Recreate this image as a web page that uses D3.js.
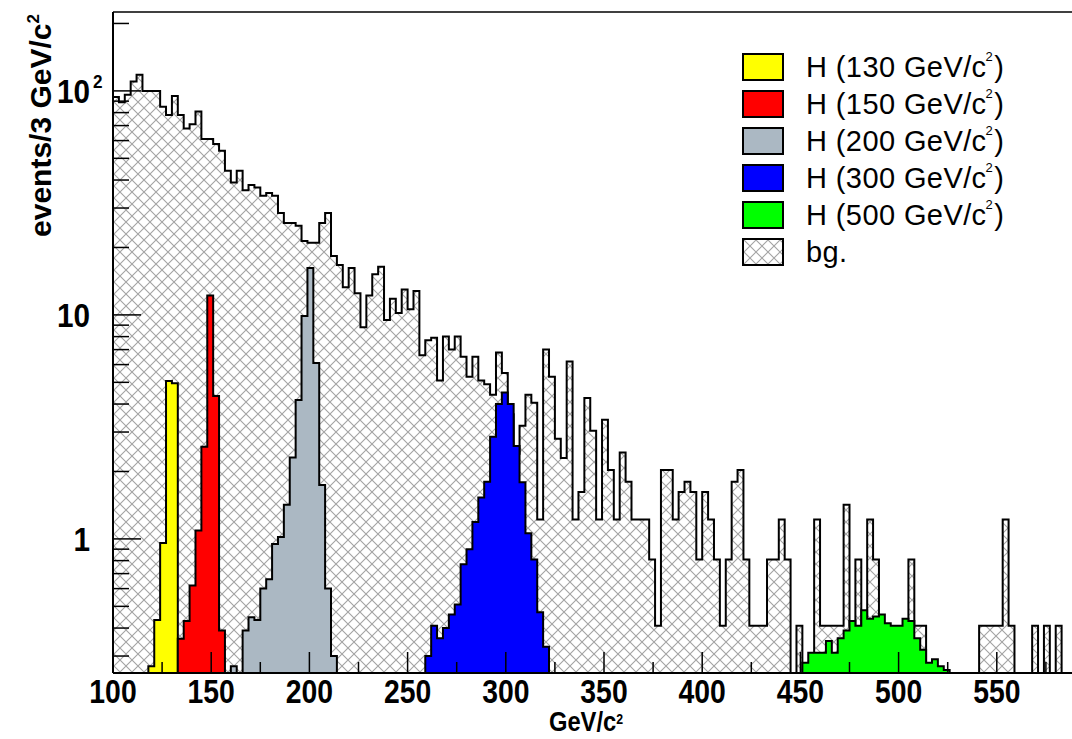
<!DOCTYPE html>
<html>
<head>
<meta charset="utf-8">
<script src="https://cdn.jsdelivr.net/npm/d3@7"></script>
<style>
  html, body { margin: 0; padding: 0; background: #fff; }
  svg { display: block; }
</style>
</head>
<body>
<svg id="chart" width="1072" height="739"></svg>
<script>
// ---------------- DATA ----------------
const binStart = 100;      // GeV
const binWidth = 3;        // GeV per bin

// background (bg.), one value per 3 GeV bin starting at 100 GeV
const bgValues = [
  94, 89, 96, 110, 118, 100, 100, 100, 85, 78,
  95, 78, 68, 71, 81, 61, 61, 58, 54, 44,
  39, 44, 36, 38, 37, 34, 35, 34, 28.5, 25.7,
  25.7, 25, 21.4, 21, 21, 25.7, 28.5, 18.3, 16.7, 13.3,
  16.2, 12.5, 8.8, 12.2, 15.2, 16.4, 9.5, 11.8, 10.2, 13,
  10.6, 12.8, 6.6, 7.7, 7.9, 5.1, 8.0, 7.0, 8.0, 6.5,
  5.3, 6.5, 5.1, 4.9, 4.4, 6.8, 5.5, 3.6, 2.4, 3.2,
  4.4, 4.05, 1.22, 7.0, 5.3, 2.8, 2.3, 6.2, 1.22, 1.62,
  4.26, 3.04, 1.22, 3.4, 2.03, 1.22, 2.43, 1.8, 1.22, 1.22,
  1.22, 0.81, 0.41, 2.03, 2.03, 1.22, 1.62, 1.8, 1.62, 0.81,
  1.62, 1.22, 0.81, 0.41, 0.81, 1.8, 2.03, 0.81, 0.41, 0.41,
  0.41, 0.81, 0.81, 1.22, 0.81, 0, 0.41, 0, 0, 1.22,
  0.41, 0.41, 0.41, 0.41, 1.42, 0.41, 0.81, 0.41, 1.22, 0.81,
  0.4, 0.4, 0.4, 0.4, 0.4, 0.81, 0.41, 0.41, 0, 0,
  0, 0, 0, 0, 0, 0, 0, 0.41, 0.41, 0.41,
  0.41, 1.22, 0.41, 0, 0, 0, 0.41, 0, 0.41, 0,
  0.41, 0
];

// signal histograms: first bin index and bin contents
const h130Start = 6;
const h130Values = [0.27, 0.435, 0.96, 5.07, 4.95];
const h150Start = 11;
const h150Values = [0.358, 0.43, 0.62, 1.09, 2.58, 12.2, 4.35, 0.39];
const h200Start = 20;
const h200Values = [0.27, 0, 0.39, 0.447, 0.435, 0.6, 0.66, 0.95, 1.02, 1.42,
                    2.31, 4.17, 9.9, 16.2, 6.1, 1.74, 0.6, 0.30];
const h300Start = 53;
const h300Values = [0.30, 0.41, 0.36, 0.40, 0.46, 0.51, 0.77, 0.90, 1.19, 1.53,
                    1.80, 2.86, 4.0, 4.5, 4.0, 2.6, 1.79, 1.06, 0.81, 0.47, 0.33];
const h500Start = 117;
const h500Values = [0.28, 0.31, 0.31, 0.31, 0.35, 0.31, 0.36, 0.39, 0.43, 0.41,
                    0.48, 0.44, 0.45, 0.46, 0.42, 0.41, 0.41, 0.44, 0.43, 0.36,
                    0.32, 0.28, 0.29, 0.27, 0.26];

const legendLabels = ["H (130 GeV/c", "H (150 GeV/c", "H (200 GeV/c", "H (300 GeV/c", "H (500 GeV/c", "bg."];
const legendColors = ["#ffff00", "#ff0000", "#abb8c3", "#0000ff", "#00ff00", "hatch"];

const xTickMajor = [100, 150, 200, 250, 300, 350, 400, 450, 500, 550];
const xTickMinor = [125, 175, 225, 275, 325, 375, 425, 475, 525, 575];
const yTickMajor = [1, 10, 100];
const yTickMinor = [0.3, 0.4, 0.5, 0.6, 0.7, 0.8, 0.9, 2, 3, 4, 5, 6, 7, 8, 9,
                    20, 30, 40, 50, 60, 70, 80, 90, 200];

// ---------------- LAYOUT ----------------
const plotLeft = 113, plotTop = 12, plotBottom = 673, plotRight = 1095;
const svg = d3.select("#chart");
svg.append("rect").attr("width", 1072).attr("height", 739).attr("fill", "#fff");

const x = d3.scaleLinear().domain([100, 600]).range([plotLeft, plotRight]);
const yMin = 0.252, yMax = 225;
const y = d3.scaleLog().domain([yMin, yMax]).range([plotBottom, plotTop]);
const yv = v => (v <= yMin ? plotBottom : Math.max(plotTop, y(v)));

const defs = svg.append("defs");
const pat = defs.append("pattern").attr("id", "hatch")
  .attr("patternUnits", "userSpaceOnUse").attr("width", 12).attr("height", 12);
pat.append("rect").attr("width", 12).attr("height", 12).attr("fill", "#fff");
pat.append("path").attr("d", "M-3,-3L15,15M15,-3L-3,15")
  .attr("stroke", "#a3a3a3").attr("stroke-width", 1.1).attr("fill", "none");
defs.append("clipPath").attr("id", "plotclip").append("rect")
  .attr("x", plotLeft).attr("y", plotTop).attr("width", plotRight - plotLeft).attr("height", plotBottom - plotTop);

function stepPath(start, values) {
  const e = i => x(binStart + binWidth * i);
  let d = `M${e(start)},${plotBottom}`;
  values.forEach((v, i) => {
    const yy = yv(v);
    d += `L${e(start + i)},${yy}L${e(start + i + 1)},${yy}`;
  });
  d += `L${e(start + values.length)},${plotBottom}Z`;
  return d;
}

const plot = svg.append("g").attr("clip-path", "url(#plotclip)");
function drawHist(start, values, fill) {
  plot.append("path").attr("d", stepPath(start, values))
    .attr("fill", fill).attr("stroke", "#000").attr("stroke-width", 2)
    .attr("stroke-linejoin", "miter");
}
drawHist(0, bgValues, "url(#hatch)");
drawHist(h130Start, h130Values, legendColors[0]);
drawHist(h150Start, h150Values, legendColors[1]);
drawHist(h200Start, h200Values, legendColors[2]);
drawHist(h300Start, h300Values, legendColors[3]);
drawHist(h500Start, h500Values, legendColors[4]);

// ---------------- FRAME & AXES ----------------
const ax = svg.append("g").attr("stroke", "#000").attr("fill", "none");
ax.append("line").attr("x1", plotLeft).attr("x2", 1072).attr("y1", plotTop).attr("y2", plotTop).attr("stroke-width", 1.5);
ax.append("line").attr("x1", plotLeft).attr("x2", 1072).attr("y1", plotBottom).attr("y2", plotBottom).attr("stroke-width", 2);
ax.append("line").attr("x1", plotLeft).attr("x2", plotLeft).attr("y1", plotTop).attr("y2", plotBottom).attr("stroke-width", 2);

xTickMajor.forEach(t => ax.append("line").attr("x1", x(t)).attr("x2", x(t))
  .attr("y1", plotBottom).attr("y2", plotBottom - 21).attr("stroke-width", 1.5));
xTickMinor.forEach(t => ax.append("line").attr("x1", x(t)).attr("x2", x(t))
  .attr("y1", plotBottom).attr("y2", plotBottom - 11).attr("stroke-width", 1.5));
yTickMajor.forEach(t => ax.append("line").attr("x1", plotLeft).attr("x2", plotLeft + 28)
  .attr("y1", y(t)).attr("y2", y(t)).attr("stroke-width", 1.5));
yTickMinor.forEach(t => ax.append("line").attr("x1", plotLeft).attr("x2", plotLeft + 16)
  .attr("y1", y(t)).attr("y2", y(t)).attr("stroke-width", 1.5));

// condensed bold text helper
const FONT = "'Liberation Sans', Arial, Helvetica, sans-serif";
function ctext(parent, tx, ty, anchor, size, sx, weight) {
  const g = parent.append("g").attr("transform", `translate(${tx},${ty}) scale(${sx},1)`);
  return g.append("text").attr("text-anchor", anchor)
    .attr("font-family", FONT).attr("font-size", size)
    .attr("font-weight", weight || "bold").attr("fill", "#000");
}

const labels = svg.append("g");
xTickMajor.forEach(t => ctext(labels, x(t), 703, "middle", 33, 0.86).text(t));

// y labels
ctext(labels, 90, y(1) + 12, "end", 33, 0.9).text("1");
ctext(labels, 90, y(10) + 12, "end", 33, 0.9).text("10");
{
  const t = ctext(labels, 90, y(100) + 12, "end", 33, 0.9);
  t.text("10");
  ctext(labels, 93, y(100) - 3, "start", 19, 0.9).text("2");
}

// axis titles
{
  const t = ctext(labels, 586, 731, "middle", 27, 0.88);
  t.append("tspan").text("GeV/c");
  t.append("tspan").attr("font-size", 14).attr("dy", -7).text("2");
}
{
  const g = labels.append("g").attr("transform", "translate(51,14) rotate(-90)");
  const t = g.append("text").attr("text-anchor", "end")
    .attr("font-family", FONT).attr("font-size", 30).attr("font-weight", "bold");
  t.append("tspan").text("events/3 GeV/c");
  t.append("tspan").attr("font-size", 17).attr("dy", -12).text("2");
}

// ---------------- LEGEND ----------------
const leg = svg.append("g");
const rowY = [67, 104, 141, 178, 215, 252];
legendLabels.forEach((lab, i) => {
  leg.append("rect").attr("x", 743).attr("y", rowY[i] - 13).attr("width", 40).attr("height", 26)
    .attr("fill", legendColors[i] === "hatch" ? "url(#hatch)" : legendColors[i])
    .attr("stroke", "#000").attr("stroke-width", 2);
  const t = leg.append("text").attr("x", 806).attr("y", rowY[i] + 10)
    .attr("font-family", FONT).attr("font-size", 29).attr("letter-spacing", 0.4).attr("fill", "#000");
  if (lab === "bg.") {
    t.text(lab);
  } else {
    t.append("tspan").text(lab);
    t.append("tspan").attr("font-size", 13).attr("dx", -1).attr("dy", -16).text("2");
    t.append("tspan").attr("font-size", 29).attr("dx", 1).attr("dy", 16).text(")");
  }
});
</script>
</body>
</html>
